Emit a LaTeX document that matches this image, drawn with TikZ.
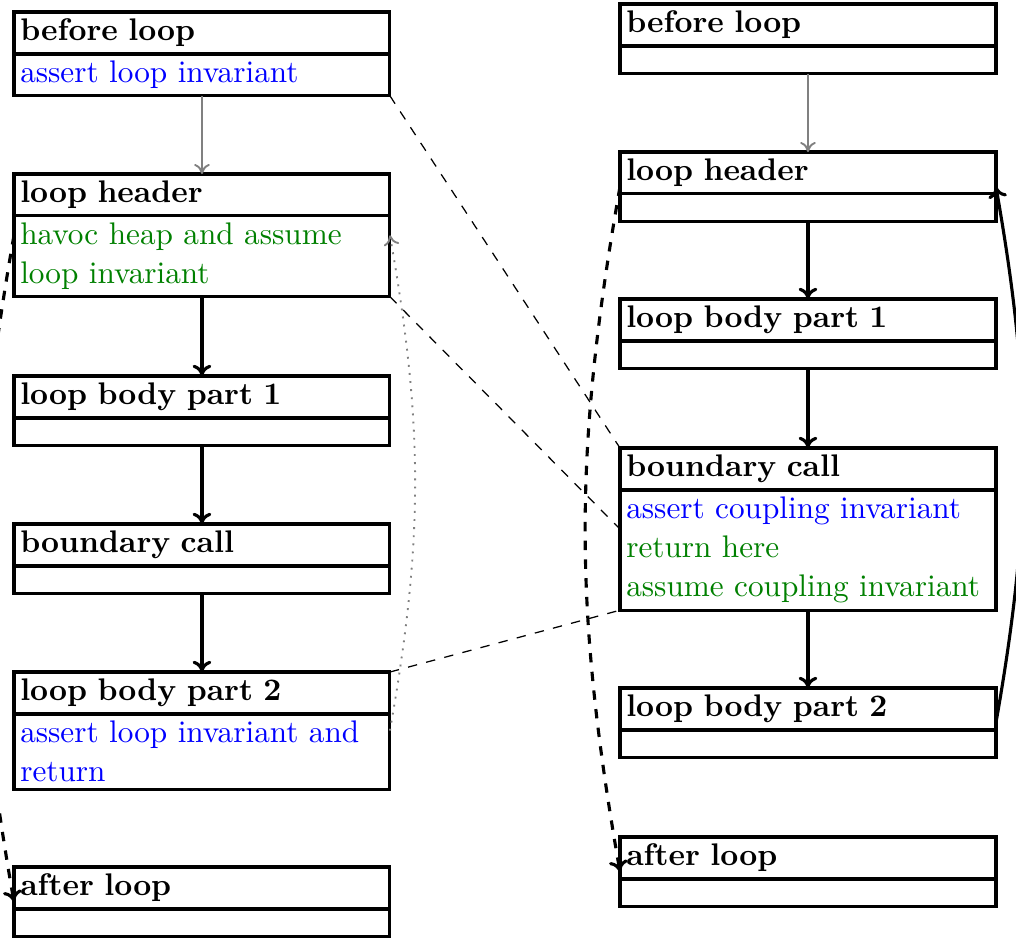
\documentclass[tikz,border=0pt]{standalone}
\usetikzlibrary{shapes.multipart,arrows.meta}
\begin{document}
\begin{tikzpicture}[x=0.32pt,y=-0.32pt,
  blk/.style={rectangle split, rectangle split parts=2, draw, line width=1pt,
    outer sep=0pt, inner xsep=2pt, inner ysep=1.75pt, text width=116.3pt,
    align=left, anchor=north west, font=\fontsize{10pt}{12.48pt}\selectfont},
  bighead/.style={-{To[length=3.6pt,width=6pt]}},
  smallhead/.style={-{To[length=3.2pt,width=5pt]}},
  seqarrow/.style={smallhead, gray, semithick},
  flowarrow/.style={bighead, line width=1pt},
  jumparrow/.style={bighead, line width=1pt, dashed},
  backarrow/.style={bighead, line width=1pt},
  retarrow/.style={smallhead, gray, semithick, dotted},
  corr/.style={dashed},
]
\useasboundingbox (0,0) rectangle (1016,938);
\colorlet{asrt}{blue}
\colorlet{asum}{green!50!black}

% left column: the loop as written
\node[blk] (lbefore) at (14,12) {\textbf{before loop}\nodepart{two}\color{asrt}assert loop invariant};
\node[blk] (lheader) at (14,174) {\textbf{loop header}\nodepart{two}\color{asum}havoc heap and assume loop invariant};
\node[blk] (lbody1) at (14,376) {\textbf{loop body part 1}\nodepart{two}\rule{0pt}{1ex}};
\node[blk] (lcall) at (14,524) {\textbf{boundary call}\nodepart{two}\rule{0pt}{1ex}};
\node[blk] (lbody2) at (14,672) {\textbf{loop body part 2}\nodepart{two}\color{asrt}assert loop invariant and return};
\node[blk] (lafter) at (14,867) {\textbf{after loop}\nodepart{two}\rule{0pt}{1ex}};

% right column: the loop split at the boundary call
\node[blk] (rbefore) at (620,4) {\textbf{before loop}\nodepart{two}\rule{0pt}{1ex}};
\node[blk] (rheader) at (620,152) {\textbf{loop header}\nodepart{two}\rule{0pt}{1ex}};
\node[blk] (rbody1) at (620,299) {\textbf{loop body part 1}\nodepart{two}\rule{0pt}{1ex}};
\node[blk] (rcall) at (620,448) {\textbf{boundary call}\nodepart{two}{\color{asrt}assert coupling invariant}\\{\color{asum}return here}\\{\color{asum}assume coupling invariant}};
\node[blk] (rbody2) at (620,688) {\textbf{loop body part 2}\nodepart{two}\rule{0pt}{1ex}};
\node[blk] (rafter) at (620,837) {\textbf{after loop}\nodepart{two}\rule{0pt}{1ex}};

% left flow
\draw[seqarrow] (lbefore.south) -- (lheader.north);
\draw[flowarrow] (lheader.south) -- (lbody1.north);
\draw[flowarrow] (lbody1.south) -- (lcall.north);
\draw[flowarrow] (lcall.south) -- (lbody2.north);
\draw[jumparrow] (lheader.west) to[bend right=10] (lafter.west);
\draw[retarrow] (lbody2.east) to[bend right=10] (lheader.east);

% right flow
\draw[seqarrow] (rbefore.south) -- (rheader.north);
\draw[flowarrow] (rheader.south) -- (rbody1.north);
\draw[flowarrow] (rbody1.south) -- (rcall.north);
\draw[flowarrow] (rcall.south) -- (rbody2.north);
\draw[jumparrow] (rheader.west) to[bend right=10] (rafter.west);
\draw[backarrow] (rbody2.east) to[bend right=10] (rheader.east);

% correspondence between the two columns
\draw[corr] (lbefore.south east) -- (rcall.north west);
\draw[corr] (lheader.south east) -- (rcall.west);
\draw[corr] (lbody2.north east) -- (rcall.south west);
\end{tikzpicture}
\end{document}
